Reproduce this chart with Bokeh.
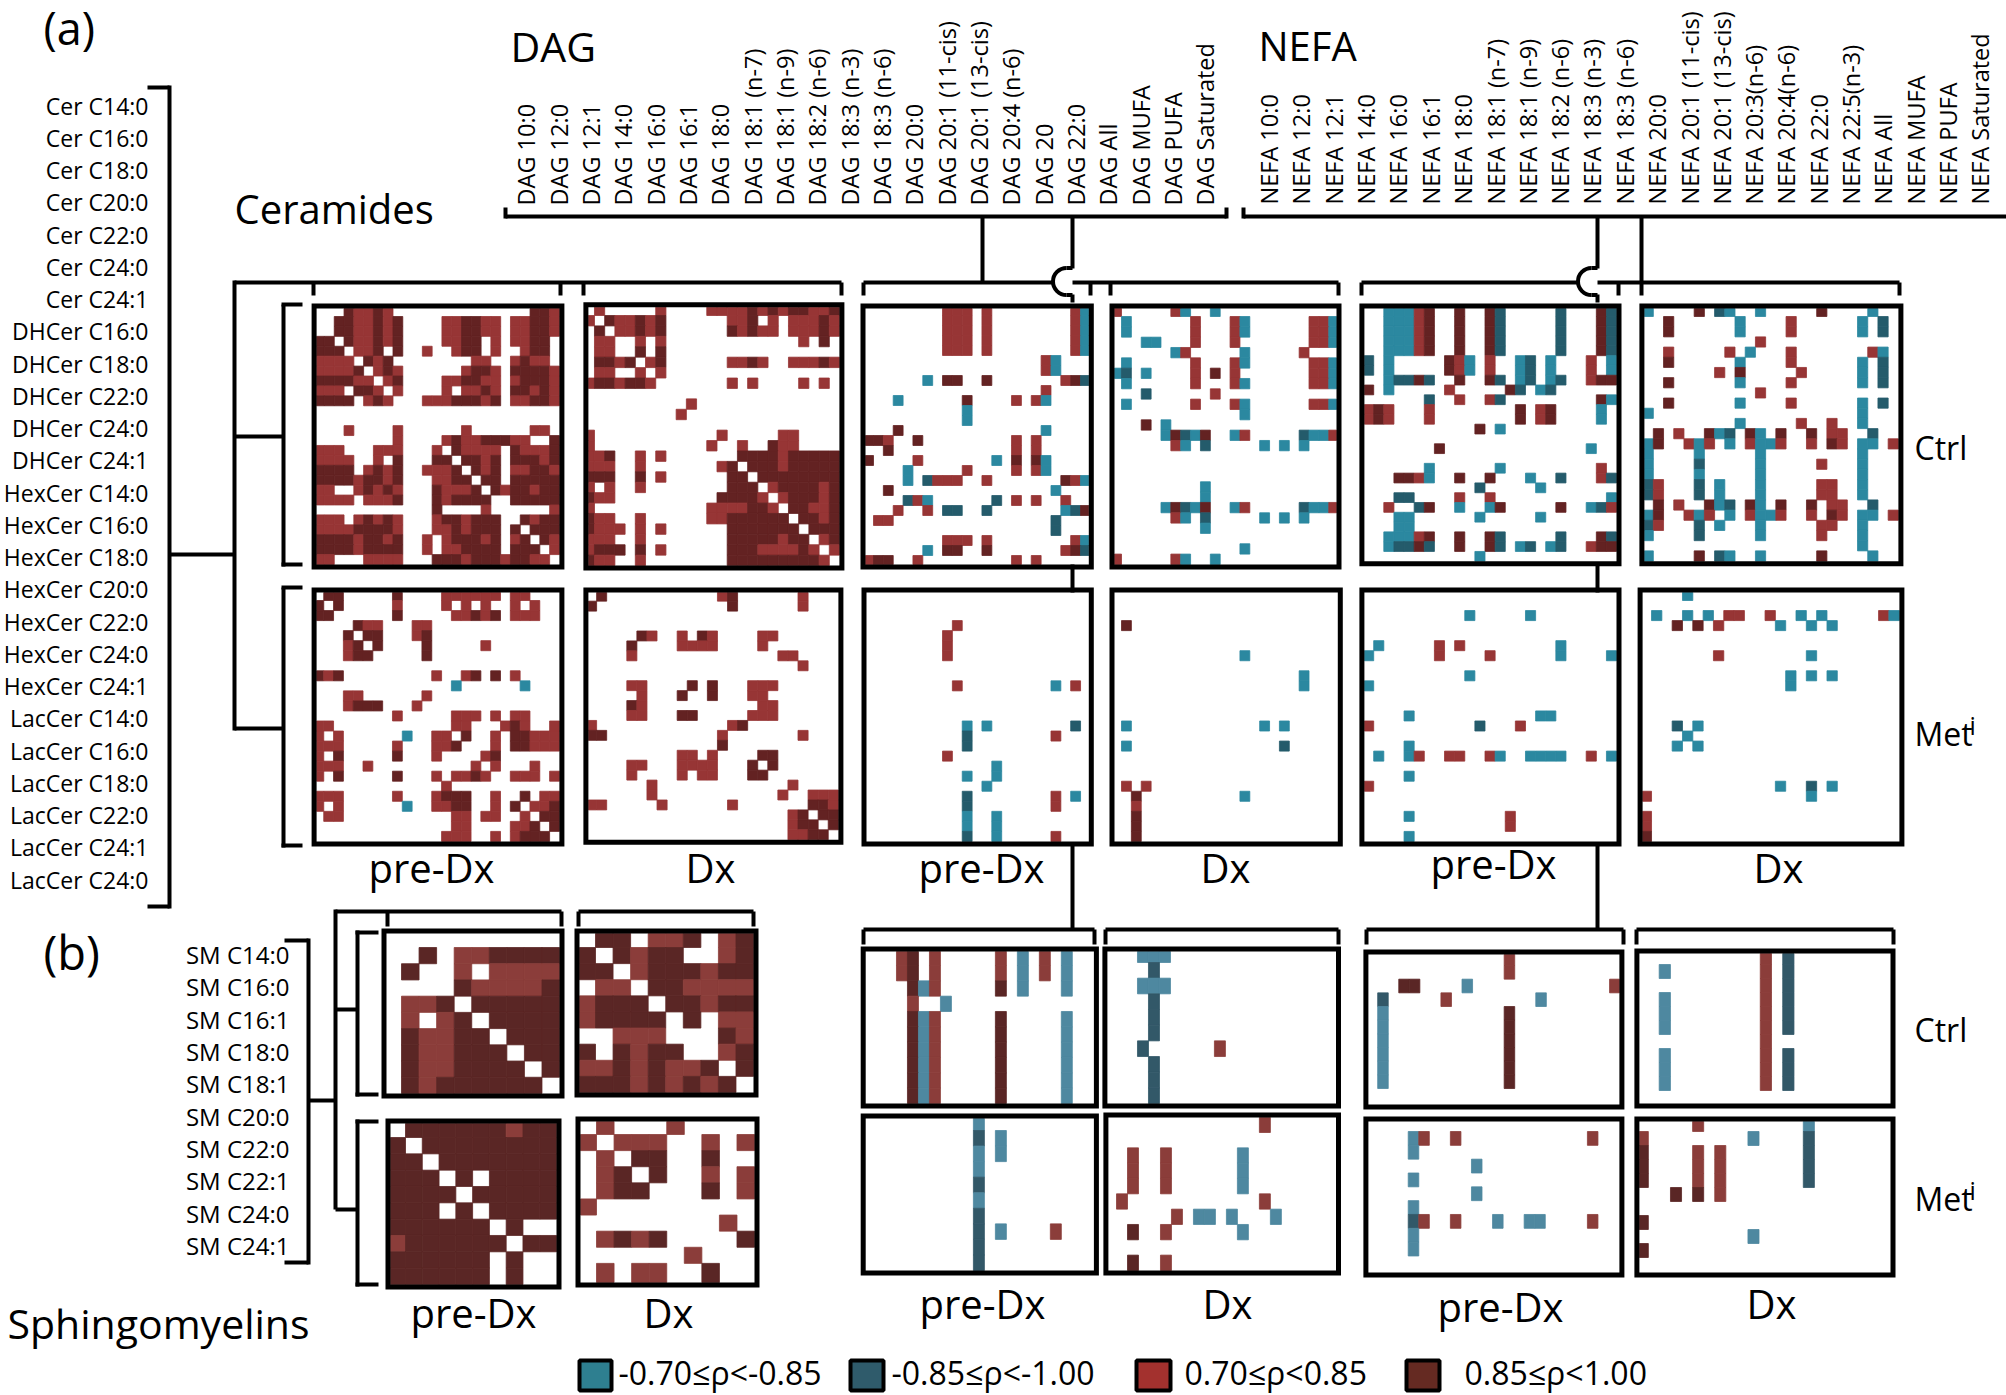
from bokeh.plotting import figure
from bokeh.embed import file_html
from bokeh.resources import INLINE
from bokeh.core.properties import value
from bokeh.models import Range1d, ColumnDataSource
import math

# ---------- data: r 0.70..0.85, d 0.85..1.00, b -0.70..-0.85, n -0.85..-1.00, . none
cer_labels = ["Cer C14:0","Cer C16:0","Cer C18:0","Cer C20:0","Cer C22:0","Cer C24:0","Cer C24:1",
 "DHCer C16:0","DHCer C18:0","DHCer C22:0","DHCer C24:0","DHCer C24:1",
 "HexCer C14:0","HexCer C16:0","HexCer C18:0","HexCer C20:0","HexCer C22:0","HexCer C24:0","HexCer C24:1",
 "LacCer C14:0","LacCer C16:0","LacCer C18:0","LacCer C22:0","LacCer C24:1","LacCer C24:0"]
sm_labels = ["SM C14:0","SM C16:0","SM C16:1","SM C18:0","SM C18:1","SM C20:0","SM C22:0","SM C22:1","SM C24:0","SM C24:1"]
dag_labels = ["DAG 10:0","DAG 12:0","DAG 12:1","DAG 14:0","DAG 16:0","DAG 16:1","DAG 18:0","DAG 18:1 (n-7)","DAG 18:1 (n-9)",
 "DAG 18:2 (n-6)","DAG 18:3 (n-3)","DAG 18:3 (n-6)","DAG 20:0","DAG 20:1 (11-cis)","DAG 20:1 (13-cis)","DAG 20:4 (n-6)",
 "DAG 20","DAG 22:0","DAG All","DAG MUFA","DAG PUFA","DAG Saturated"]
nefa_labels = ["NEFA 10:0","NEFA 12:0","NEFA 12:1","NEFA 14:0","NEFA 16:0","NEFA 16:1","NEFA 18:0","NEFA 18:1 (n-7)","NEFA 18:1 (n-9)",
 "NEFA 18:2 (n-6)","NEFA 18:3 (n-3)","NEFA 18:3 (n-6)","NEFA 20:0","NEFA 20:1 (11-cis)","NEFA 20:1 (13-cis)","NEFA 20:3(n-6)",
 "NEFA 20:4(n-6)","NEFA 22:0","NEFA 22:5(n-3)","NEFA All","NEFA MUFA","NEFA PUFA","NEFA Saturated"]
legend_labels = ["-0.70≤ρ<-0.85","-0.85≤ρ<-1.00","0.70≤ρ<0.85","0.85≤ρ<1.00"]

cer_ctrl_pre = ["...drrdr..............ddr","..ddrrdrd....rrddrr.rrddr","..ddrrdrd....rrddrr.rrddr","dd.drrdrd....rrdd.r.rrdd.",
"ddd.rrd.d..r..rdd.r..rdd.","rrrr.drd........rr..rdrr.","rrrrd.rdr......rddr.ddddr","ddddrr.rd....rrddrr.rdddr","rrr.ddr.r....r.rrdr.ddrdr",
"dddd.rdr...rrrdddrd.rrddr",".",".","...r....r......r......rr.","........r....rdrrdddrr..d","rrr...rrr...r.drrrr.drrrd","rrrr..r.d...dd.ddrd.dddrd",
"dddd.rdrd..rrrd.drd.rrddr","ddddrddrd...rrdd.dd.ddddd","rr..rdrdr...drrrd.drddrdd","rrrr.rrrd...drdddd..ddddd","............d....r......r",
"rrr.rdrdr...rddrddd..drdd","rrrrddddr...rrdrddd.d.ddd","ddddrddrd..r.rdddrd.rd.dr","ddddrdddd..r.rrdddd.ddd.r","rr...rrrr...dddrdddrddrr."]
cer_ctrl_dx = [".r.....r....rrrrdrdrddrrd","r.drrdrd......rrd.r.rrrdr",".d.rrdrd......drdrr.rrrdr",".rr..r.r.............r.d.",".rr..d.d",
".ddrd.rd......rrdr..rrrdr",".rr..r.r","rddrddr.......r.r....r.r.",".","..........r",".........r",".",
"r............r.....rr....","r...........r..r..drr....","rrd..r.r.......ddddrddddd","rrr..r.......rd.dddrddddd","ddd..d.r......dd.dddddddd",
"r.r..r........ddd.rddddrd","drr..........ddddr.rdddrd","r...........rrrrddr.ddrrd","drr..r......rrdddddd.ddrd","drrr.r.r......ddddddd.ddd",
"rrr..r........dddddrdd.rd","rddd.d.r......dddrrrrdr.r","drr..r........dddddddddr."]
cer_met_pre = [".dd.....d....rrrrrr.rr...","d.d.....r....r.r.r..r.r..","dd......d.....rrdrd.rrr..","....drr...rr","...d.dd...rd","...rd.d....d.....r",
"...rdd.....d",".","drd.........r..rd.d.r....","..............b......b...","...rr......r","...rddd...r","........r.....rrr.r.rr...","rr............rr...rdr..r",
"r.r......b..rr.d..r.ddrrr","rrr.....r...rrd...r.ddrrr","r.d.....d...r....rd......","rrr..r..........r.r...r..","r.d.....d...r.rrdr..rrr.r",
".............r","rrr.....r...rddd..r..d.rr","r.r......b..rrdd..r.d.rrd",".rr...........rr.rr..r.dd","..............rr....rrd.d",".............rrr..r.rddd."]
cer_met_dx = [".d...........rd......r...","d.............d......r...",".",".",".....dr..r.dr....rr......","....d....rrrr....r.......","....r..............rr....",
".....................r...",".","....rr....d.d...rrr......",".....r...d..d...rr.......","....dr...........rr......","....rr...dd.....rrr......",
"r.............rd.........","dd...........r.......r...",".............d...........",".........rr.r....dd......","....rr...rrrr...d.d......","....r....r.rr...dd.......",
"......r.............r....","......r............r..rrr","rr.....r......r.......ddr","....................rd.dd","....................rdd.d","....................rrdd."]
dag_ctrl_pre = ["........rrr.r........rb"]*5 + ["..................rb...","..................rb...","......b.dd..d.......rdn","..................r",
"...b......d....r.rb....","..........b","..........b","...d..............b....","ddr..d.........r.r.....","..d............r.r.....","d....r.......b.d.db....",
"....b.....r....r.rb....","....b.nrrr..r.......drb","..d................b...","....nrb......n.r.r..r..","...r..r.nn..n.......bnd",".rr................n...",
"...................n...","........rrr.r........rb","......b.dd..d.......rdn","rdd..r.........r.r....."]
dag_ctrl_dx = ["r.....rb..b",".b......r...rb......rrb",".b......r...rb......rrb","...bb...r...r.......rrb","......br.....b.....r...",".b......r...rb......rrb",
"bn.b....r.d.r.......rrb",".b......r...rb......rrb","...n......r",".b......r...rb......rrb",".............b","...d.b",".....bdnbd..br.....nbbr",
"......rb.n.....b.b.b...",".",".",".",".........b",".........b",".....bdnbd..br.....nbbr","......rb.n.....b.b.b...",".........b",".",".............b","r.....rb..b"]
dag_met_pre = [".",".",".",".........r","........r","........r","........r",".",".",".........r.........b.r.",".",".",".","..........b.b........n.",
"..........n........r...","..........n","........r",".............b","..........b..b","............b","..........n........r.b.","..........n........r...",
"..........b..b","..........b..b","..........n..b.....r..."]
dag_met_dx = [".",".",".",".d",".",".",".............b",".","...................b","...................b",".",".",".",".b.............b.b",".",
".b...............n",".",".",".",".r.r","..d..........b","..r","..d","..d","..d"]
nefa_ctrl_pre = ["..bbbrd..d..dn.....n...dn"]*5 + ["n.b.....drb.r..bn.b...r.b","n.b.....drb.r..bn.b...r.b","..bnndn..d..dn.bn.bn..rdd","d.b.....r.....dn.bn......",
"......n..r..rn.........db","rdr...r........d.rd....b.","rdr...r........d.rd....b.","...........d.b",".",".......d..............b..",".","......b......b.........r.",
"...ddrb..d..d...b..n...rn","...........n.....b","...nn....r..r...........b","..r..nd..b..bd.....d..bnr","...bb......b.....b","...bb",
"..bbbrd..d..dn.....n...dn","..bnndn..d..dn.bn.bn..rdd","...........b"]
nefa_ctrl_dx = ["b....d.nb..b.....d....b..","..d......b....r......b.n.","..d......b....r......b.n.","...........r","..r.....r.b...r.......rb.","..d......b....r......b.n.",
".......r.d.....r.....b.n.","..d......b....r......b.n.","...........r","..d......b....r......b.n.","b....................b",".........b.....r..r..b",
".d.r..dbn.db.d..d.rr..n..","bd..rbr.b.rbbr..r.dr.bb.r","b....b.....b.........b","b....n.....b.....r...b","b....b.....b.........b","nr...n.b...b.....rr..b",
"nr...n.b...b.....rr..b",".d.r..dbn.db.d..d.rr..n..","bd..rbr.b.rbbr..r.dr.bb.r","nr...n.b...b.....rr..b","b....n.....b.....r...b",".....................b","b....d.nb..b.....d....b.."]
nefa_met_pre = [".",".","..........b.....b",".",".",".b.....r.r.........b","b......r....r......b....b",".","..........b","b",".",".","....b............bb",
"r..........n...r","." ,"....b",".b..br..rr..rb..bbbb..r.b",".","....b","r",".",".","....b.........r","..............r","....b"]
nefa_met_dx = ["....b",".",".b..b.b.rr..r..b.b.....rb","...d.d.r.....b..b.b",".",".",".......r........b",".","..............b.b.b","..............b",".",".",".",
"...n.b","....b","...b.b",".",".",".",".............b..n.b","r...............b",".","r","r","d"]

sm_ctrl_pre = [".","..d.rrdddd",".d..r.rrrr","....drrrrd",".rrd.ddddd",".r.rd.dddd",".drrdd.ddd",".drrddd.dd",".drrdddd.d",".drdddddd."]
sm_ctrl_dx = [".dd.rrd.rd","d.drdd..rd","dd.rdddrdd",".rr.ddrrrr","rddd.ddrdd","rdddd.d.rr","..rrr...dr","d.drdd..rd","rrdrdrrd.d","dddrdrdrd."]
sm_met_pre = [".ddddddrdd","d.dddddddd","dd.ddddddd","ddd.d.dddd","dddd.ddddd","ddd.d.dddd","dddddd.d..","rdddddd.dd","dddddd.d..","dddddd.d.."]
sm_met_dx = [".r...r....","r.rrr..r.r",".r.dd..d..",".rd.d..r.r",".rdd...d.r","r","........r.",".rdrd....d","......r...",".r.rr..d.."]
smdag_ctrl_pre = ["...rd.r.....r.b.r.b..","...rd.r.....r.b.r.b..","....dbr.....d.b...b..","....r..b","....dbr.....d.....b..","....dbr.....d.....b..",
"....dbr.....d.....b..","....dbr.....d.....b..","....dbr.....d.....b..","....dbr.....d.....b.."]
smdag_ctrl_dx = ["...bbb","....n","...bbb","....n","....n","....n","...n......r","....n","....n","....n"]
smdag_met_pre = ["..........b","..........n.b","..........b.b","..........b","..........n","..........b","..........n","..........n.b....r...","..........n","..........n"]
smdag_met_dx = ["..............r",".","..r..r......b","..r..r......b","..r..r......b",".r............r","......r.bb.b...b","..d..r......b",".","..d..r"]
smnefa_ctrl_pre = [".............r",".............r","...dd....b.............r",".n.....r........b",".b...........d",".b...........d",".b...........d",".b...........d",
".b...........d",".b...........d","."]
smnefa_ctrl_dx = ["...........r.n","..b........r.n","...........r.n","..b........r.n","..b........r.n","..b........r.n","...........r","..b........r.n","..b........r.n","..b........r.n","."]
smnefa_met_pre = [".","....br..r............r","....b","..........b","....b","..........b","....b","....nr..r...b..bb....r","....b","....b","."]
smnefa_met_dx = [".....r.........b","r.........b....n","d....r.r.......n","d....r.r.......n","d....r.r.......n","...d.d.r",".","d","..........b","d","."]

# ---------- layout and styles
TOP = dict(r="#973535", d="#632222", b="#2b88a0", n="#245b6b")
BOT = dict(r="#8b3d3a", d="#5a2625", b="#4e88a0", n="#325868")
LEG = ["#2e7f90", "#2f5b6b", "#a3312e", "#652a22"]
INK = "black"
F = value("Open Sans")

# matrix, ncols, x0, x1, y0, y1, first_w, cell_w, first_h, cell_h, palette
panels = [
 (cer_ctrl_pre,25,316.1,558.9,308,564,7.86,9.79,8,9.92,TOP),
 (cer_ctrl_dx,25,587.9,838.9,306.7,565,6.07,10.21,8.3,10.42,TOP),
 (cer_met_pre,25,316.1,558.9,592,841,7.14,9.82,8,10.04,TOP),
 (cer_met_dx,25,587.9,837.9,592,839.3,8.21,10.07,8.67,9.94,TOP),
 (dag_ctrl_pre,23,865,1088.3,308,564,8,9.86,7,10,TOP),
 (dag_ctrl_dx,23,1114,1336,308,564,7,9.87,8,10.33,TOP),
 (dag_met_pre,23,866,1088.3,592,841,7,9.86,8,10.04,TOP),
 (dag_met_dx,23,1114,1337.3,592,841,7,9.87,8,10.04,TOP),
 (nefa_ctrl_pre,25,1363.9,1616,308,560.7,9.29,10.12,8,9.79,TOP),
 (nefa_ctrl_dx,25,1643.9,1897.9,308,560.7,8.93,10.21,8,10.19,TOP),
 (nefa_met_pre,25,1363.9,1616,592,841,9.29,10.12,8,10.04,TOP),
 (nefa_met_dx,25,1642.1,1898.9,592,841,8.93,10.32,8,10.04,TOP),
 (sm_ctrl_pre,10,386,559,933,1093,15,17.56,14,16.22,BOT),
 (sm_ctrl_dx,10,579,753,933,1092,16,17.56,14,16.11,BOT),
 (sm_met_pre,10,390,556,1123,1284,15,16.78,14,16.33,BOT),
 (sm_met_dx,10,580,754,1121,1282,16,17.56,13,16.11,BOT),
 (smdag_ctrl_pre,21,865.2,1093.4,951,1103,8.79,10.99,14,15.33,BOT),
 (smdag_ctrl_dx,21,1106.9,1335.5,951,1103,8.11,10.99,11,15.67,BOT),
 (smdag_met_pre,21,865.2,1093.4,1118,1270,8.79,10.99,12,15.56,BOT),
 (smdag_met_dx,21,1107.9,1335.5,1117,1270,8.11,10.99,15,15.33,BOT),
 (smnefa_ctrl_pre,24,1367.9,1618.9,954,1104,9.29,10.54,11,13.67,BOT),
 (smnefa_ctrl_dx,23,1638.9,1890,953,1103,8.57,11.23,11,14,BOT),
 (smnefa_met_pre,24,1367.9,1618.9,1121,1272,8.21,10.54,10,13.83,BOT),
 (smnefa_met_dx,23,1638.9,1890,1121,1272,8.93,11.07,10,14,BOT),
]

def edges(a, b, first, cell, n):
    e = [a] + [a + first + k * cell for k in range(n - 1)] + [b]
    return [min(v, b) for v in e]

p = figure(width=2006, height=1395, x_range=Range1d(0, 2006), y_range=Range1d(1395, 0),
           output_backend="svg", toolbar_location=None, min_border=0)
p.axis.visible = False
p.grid.visible = False
p.outline_line_color = None
p.background_fill_color = "white"

L, R, T, B, C = [], [], [], [], []
bx0, bx1, by0, by1 = [], [], [], []
for rows, nc, x0, x1, y0, y1, fw, cw, fh, ch, pal in panels:
    xs = edges(x0, x1, fw, cw, nc)
    ys = edges(y0, y1, fh, ch, len(rows))
    for i, row in enumerate(rows):
        row = row.ljust(nc, ".")
        assert len(row) == nc, row
        for j, c in enumerate(row):
            if c != ".":
                L.append(xs[j]); R.append(xs[j+1]); T.append(ys[i]); B.append(ys[i+1]); C.append(pal[c])
    bx0.append(x0 - 2.5); bx1.append(x1 + 2.5); by0.append(y0 - 2.5); by1.append(y1 + 2.5)

cells = ColumnDataSource(dict(left=L, right=R, top=T, bottom=B, color=C))
p.quad(left="left", right="right", top="top", bottom="bottom", fill_color="color", line_color="color", line_width=0.8, source=cells)
p.quad(left=bx0, right=bx1, top=by0, bottom=by1, fill_color=None, line_color=INK, line_width=5, line_join="miter")

# brackets
seg = [
 # ceramide label list bracket and tree
 (147,87,169,87),(169,85,169,908),(147,906,169,906),(169,554,234,554),(234,280,234,730),
 (234,282,841,282),(313,282,313,295),(560,282,560,295),(583,282,583,295),(841,282,841,295),
 (234,436,283,436),(234,728,283,728),(283,304,283,566),(281,304,302,304),(281,564,302,564),
 (283,587,283,847),(281,587,302,587),(281,845,302,845),
 # DAG
 (505,216,1226,216),(505,207,505,218),(1226,207,1226,218),(982,216,982,282),(1072,216,1072,268),
 (863,282,1053,282),(1072,282,1338,282),(863,282,863,295),(1338,282,1338,295),(1090,282,1090,295),(1110,282,1110,295),
 (1066,267.5,1072,267.5),(1066,294.5,1072,294.5),(1072,294,1072,302),(1072,564,1072,592),(1072,845,1072,929),
 (863,929,1094,929),(1105,929,1338,929),(863,929,863,944),(1094,929,1094,944),(1105,929,1105,944),(1338,929,1338,944),
 # NEFA
 (1243,216,2006,216),(1243,207,1243,218),(1597,216,1597,268),(1641,216,1641,295),
 (1361,282,1577,282),(1597,282,1899,282),(1361,282,1361,295),(1618,282,1618,295),(1899,282,1899,295),
 (1591,267.5,1597,267.5),(1591,294.5,1597,294.5),(1597,294,1597,302),(1597,564,1597,592),(1597,845,1597,929),
 (1366,929,1623,929),(1636,929,1893,929),(1366,929,1366,944),(1623,929,1623,944),(1636,929,1636,944),(1893,929,1893,944),
 # sphingomyelins
 (284,940,308,940),(308,938,308,1264),(284,1262,308,1262),(308,1100,335,1100),(335,909,335,1209),
 (335,911,561,911),(387,911,387,926),(561,911,561,926),(578,911,753,911),(578,911,578,926),(753,911,753,926),
 (335,1009,357,1009),(335,1209,357,1209),(357,930,357,1096),(355,932,378,932),(355,1094,378,1094),
 (357,1119,357,1286),(355,1121,378,1121),(355,1284,378,1284),
]
p.segment(x0=[s[0] for s in seg], y0=[s[1] for s in seg], x1=[s[2] for s in seg], y1=[s[3] for s in seg],
          line_color=INK, line_width=4, line_cap="butt")
p.arc(x=[1066, 1591], y=[281, 281], radius=13.5, start_angle=math.pi/2, end_angle=3*math.pi/2, line_color=INK, line_width=4)

def txt(x, y, t, size, align="left", angle=0, base="middle"):
    p.text(x=[x], y=[y], text=[t], text_font=F, text_font_size=size, text_align=align, text_baseline=base,
           angle=angle, text_color=INK)

# rotated column labels
dag_x = [525,558,590.5,622.5,655,687,719,752,784,816,849,881,913,946,978,1010,1043,1075,1107,1140,1172,1204]
nefa_x = [1268.6,1300.7,1333,1365.6,1397.7,1430,1462.5,1495,1527,1559.5,1591.7,1624,1656.5,1689,1721,1753.5,1785.6,1818,1850.5,1882.6,1915,1947,1979]
p.text(x=dag_x, y=[205]*len(dag_x), text=dag_labels, text_font=F, text_font_size="23.5px", text_baseline="middle", text_align="left", angle=math.pi/2, text_color=INK)
p.text(x=nefa_x, y=[204]*len(nefa_x), text=nefa_labels, text_font=F, text_font_size="23.5px", text_baseline="middle", text_align="left", angle=math.pi/2, text_color=INK)
# row labels
cer_y = [105 + k * 32.25 for k in range(len(cer_labels))]
sm_y = [954 + k * 32.33 for k in range(len(sm_labels))]
p.text(x=[148]*len(cer_y), y=cer_y, text=cer_labels, text_font=F, text_font_size="23px", text_baseline="middle", text_align="right", text_color=INK)
p.text(x=[289]*len(sm_y), y=sm_y, text=sm_labels, text_font=F, text_font_size="24px", text_baseline="middle", text_align="right", text_color=INK)

# headings
txt(43, 27, "(a)", "45px")
txt(43, 951, "(b)", "47px")
txt(510, 45, "DAG", "41px")
txt(1258, 45, "NEFA", "40px")
txt(234, 208, "Ceramides", "40px")
txt(7, 1322, "Sphingomyelins", "41px")
for x, y, t in [(431,867,"pre-Dx"),(710,867,"Dx"),(981,867,"pre-Dx"),(1225,867,"Dx"),(1493,863,"pre-Dx"),(1778,867,"Dx"),
                (473,1312,"pre-Dx"),(668,1312,"Dx"),(982,1303,"pre-Dx"),(1227,1303,"Dx"),(1500,1306,"pre-Dx"),(1771,1303,"Dx")]:
    txt(x, y, t, "40px", align="center")
for y in (447, 1029):
    txt(1914, y, "Ctrl", "32px")
for y in (733, 1198):
    txt(1914, y, "Met", "32px")
    txt(1969, y - 9, "i", "25px")

# legend
sw_x0 = [579, 850, 1136, 1406]
sw_x1 = [611, 883, 1170, 1439]
tx = [618, 891, 1184, 1464]
p.quad(left=sw_x0, right=sw_x1, top=[1360]*4, bottom=[1390]*4, fill_color=LEG, line_color=INK, line_width=4)
p.text(x=tx, y=[1372]*4, text=legend_labels, text_font=F, text_font_size="32px", text_baseline="middle", text_align="left", text_color=INK)

open("out.html", "w").write(file_html(p, INLINE))
